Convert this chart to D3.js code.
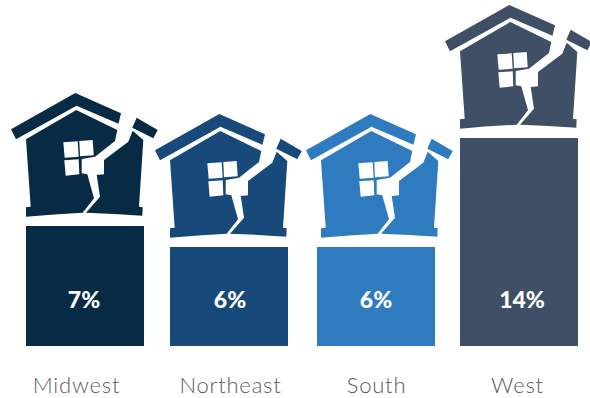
<!DOCTYPE html>
<html>
<head>
<meta charset="utf-8">
<script src="https://cdn.jsdelivr.net/npm/d3@7/dist/d3.min.js"></script>
<style>
  html, body { margin: 0; padding: 0; background: #fff; }
  svg { display: block; }
</style>
</head>
<body>
<svg id="chart" width="590" height="398"></svg>
<script>
// Share of homes by region
const regions = ["Midwest", "Northeast", "South", "West"];
const shares = [7, 6, 6, 14];
const colors = ["#082b45", "#174a7b", "#2e7cbf", "#3e4f66"];

const width = 590, height = 398, baseline = 346, barWidth = 118;
const barLeft = [26, 170, 317, 460];
const houseLeft = [26, 170, 321, 460];
const valueCenter = [84, 230, 376, 522];
const labelCenter = [76, 230, 376, 517];

const svg = d3.select("#chart");

const x = d3.scaleOrdinal().domain(regions).range(barLeft);
const xHouse = d3.scaleOrdinal().domain(regions).range(houseLeft);
const xValue = d3.scaleOrdinal().domain(regions).range(valueCenter);
const xLabel = d3.scaleOrdinal().domain(regions).range(labelCenter);
// Bar lengths follow the published graphic's stepped scale
const barLength = d3.scaleLinear().domain([0, 6, 7, 14]).range([0, 99, 120, 208]);

// Cracked-house pictogram, in coordinates relative to the top-left corner of a bar
const roofLeft = "M49.3,-133 L95,-112.7 L92.5,-102.2 L50.5,-120.3 L-10,-86.7 L-15,-96.7 Z";
const roofRight = "M110.7,-108.3 L131.7,-96 L127.3,-87.7 L106.3,-98.3 Z";
const bodyLeft = "M0,-86.7 L50.3,-116 L91.3,-96 L89,-85 L69,-69.3 L55.7,-67 L55.7,-52.7 L61.3,-51.7 L68,-27.7 L56.7,-13.3 Q28,-12 0,-9.3 L0,-18.7 L4.7,-19.3 Z";
const bodyRight = "M106.7,-95.3 L117.3,-86 L113,-19.3 L116.7,-18.7 L116.3,-10.3 Q88,-12.5 60,-13.3 L74,-29.3 L70.7,-51 L78,-51.7 L78,-66 L102.3,-84.3 Z";
const panes = [
  "M37.3,-83.7 L51.7,-84.7 L52.7,-69.3 L38.7,-68.3 Z",
  "M53.3,-85 L66.7,-86 L67.7,-70.7 L54,-69.7 Z",
  "M38.3,-65.7 L52.7,-66.7 L53.3,-51.7 L39.7,-50.3 Z"
];

const groups = svg.selectAll("g.region")
  .data(regions.map((r, i) => ({ region: r, share: shares[i], color: colors[i] })))
  .join("g")
  .attr("class", "region");

groups.append("rect")
  .attr("x", d => x(d.region))
  .attr("y", d => baseline - barLength(d.share))
  .attr("width", barWidth)
  .attr("height", d => barLength(d.share))
  .attr("fill", d => d.color);

const house = groups.append("g")
  .attr("transform", d => `translate(${xHouse(d.region)},${baseline - barLength(d.share)})`);

house.selectAll("path.shell")
  .data(d => [roofLeft, roofRight, bodyLeft, bodyRight].map(p => ({ p, color: d.color })))
  .join("path")
  .attr("class", "shell")
  .attr("d", d => d.p)
  .attr("fill", d => d.color);

house.selectAll("path.pane")
  .data(panes)
  .join("path")
  .attr("class", "pane")
  .attr("d", d => d)
  .attr("fill", "#fff");

groups.append("text")
  .attr("x", d => xValue(d.region))
  .attr("y", 308)
  .attr("text-anchor", "middle")
  .attr("fill", "#fff")
  .style("font-family", "Lato, sans-serif")
  .style("font-weight", 900)
  .style("font-size", "23px")
  .text(d => d.share + "%");

const axis = svg.append("g")
  .attr("transform", "translate(0,368)")
  .call(d3.axisBottom(xLabel).tickSize(0).tickPadding(0));
axis.select(".domain").remove();
axis.selectAll("text")
  .attr("y", 25)
  .attr("dy", 0)
  .attr("fill", "#5c5c5c")
  .style("font-family", "Lato, sans-serif")
  .style("font-weight", 300)
  .style("letter-spacing", "0.8px")
  .style("font-size", "22px");
</script>
</body>
</html>
